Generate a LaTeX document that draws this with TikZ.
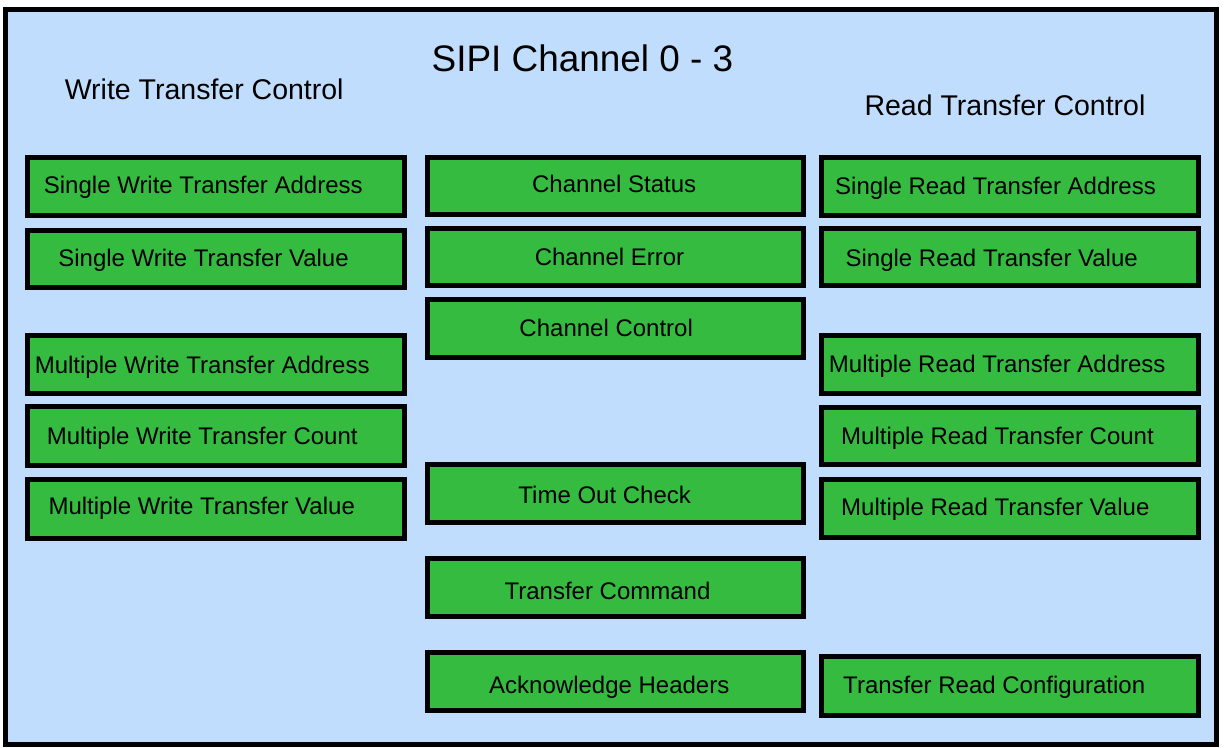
\documentclass[tikz,border=0pt]{standalone}
\usepackage{fontspec}
\setmainfont{Liberation Sans}
\definecolor{chanblue}{RGB}{193,221,253}
\definecolor{reggreen}{RGB}{52,187,64}

\begin{document}
\begin{tikzpicture}[x=1pt,y=-1pt,
  regbox/.style={draw=black,line width=5pt,fill=reggreen},
  regtext/.style={inner sep=0pt,text height=17.3pt,text depth=0pt,font=\fontsize{24}{28}\selectfont},
  headtext/.style={inner sep=0pt,text height=20.4pt,text depth=0pt,font=\fontsize{28.5}{32}\selectfont},
  titletext/.style={inner sep=0pt,text height=26.4pt,text depth=0pt,font=\fontsize{36.9}{42}\selectfont}]
\useasboundingbox (0,0) rectangle (1225,747);
% channel frame
\draw[line width=4.8pt,fill=chanblue] (5.5,9.5) rectangle (1216.5,744.5);
\path (582.5,58.3) node[titletext] (title) {SIPI Channel 0 - 3};
\path (204.2,89.2) node[headtext] (wrhead) {Write Transfer Control};
\path (1005,105) node[headtext] (rdhead) {Read Transfer Control};
% Write transfer control
\draw[regbox] (27.5,157.5) rectangle (404,215.2);
\path (203.3,184.7) node[regtext] (swta) {Single Write Transfer Address};
\draw[regbox] (27.5,230.2) rectangle (404,287.8);
\path (203.5,258) node[regtext] (swtv) {Single Write Transfer Value};
\draw[regbox] (27.5,335.8) rectangle (404,393.5);
\path (202.2,364.5) node[regtext] (mwta) {Multiple Write Transfer Address};
\draw[regbox] (27.5,406.8) rectangle (404,465.2);
\path (202.2,436) node[regtext] (mwtc) {Multiple Write Transfer Count};
\draw[regbox] (27.5,479.8) rectangle (404,538.2);
\path (201.7,506.3) node[regtext] (mwtv) {Multiple Write Transfer Value};
% Channel registers
\draw[regbox] (427,157.5) rectangle (803.5,214.8);
\path (614.2,184.2) node[regtext] (chstat) {Channel Status};
\draw[regbox] (427,228.2) rectangle (803.5,285.8);
\path (609.5,256.7) node[regtext] (cherr) {Channel Error};
\draw[regbox] (427,299.2) rectangle (803.5,357.5);
\path (606.2,327.8) node[regtext] (chctrl) {Channel Control};
\draw[regbox] (427,464.2) rectangle (803.5,522.5);
\path (604.7,494.5) node[regtext] (tocheck) {Time Out Check};
\draw[regbox] (427,558.5) rectangle (803.5,616.8);
\path (607.5,590.5) node[regtext] (trcmd) {Transfer Command};
\draw[regbox] (427,652.5) rectangle (803.5,710.8);
\path (609.3,684.5) node[regtext] (ackhdr) {Acknowledge Headers};
% Read transfer control
\draw[regbox] (821.5,157.5) rectangle (1198,215.8);
\path (995.5,186.2) node[regtext] (srta) {Single Read Transfer Address};
\draw[regbox] (821.5,228.2) rectangle (1198,285.8);
\path (991.7,258) node[regtext] (srtv) {Single Read Transfer Value};
\draw[regbox] (821.5,335.2) rectangle (1198,393.5);
\path (997.2,363.8) node[regtext] (mrta) {Multiple Read Transfer Address};
\draw[regbox] (821.5,407.5) rectangle (1198,464.8);
\path (997.5,436.2) node[regtext] (mrtc) {Multiple Read Transfer Count};
\draw[regbox] (821.5,479.8) rectangle (1198,537.5);
\path (995.3,506.7) node[regtext] (mrtv) {Multiple Read Transfer Value};
\draw[regbox] (821.5,656.8) rectangle (1198,715.2);
\path (994.2,684.5) node[regtext] (trcfg) {Transfer Read Configuration};
\end{tikzpicture}
\end{document}
